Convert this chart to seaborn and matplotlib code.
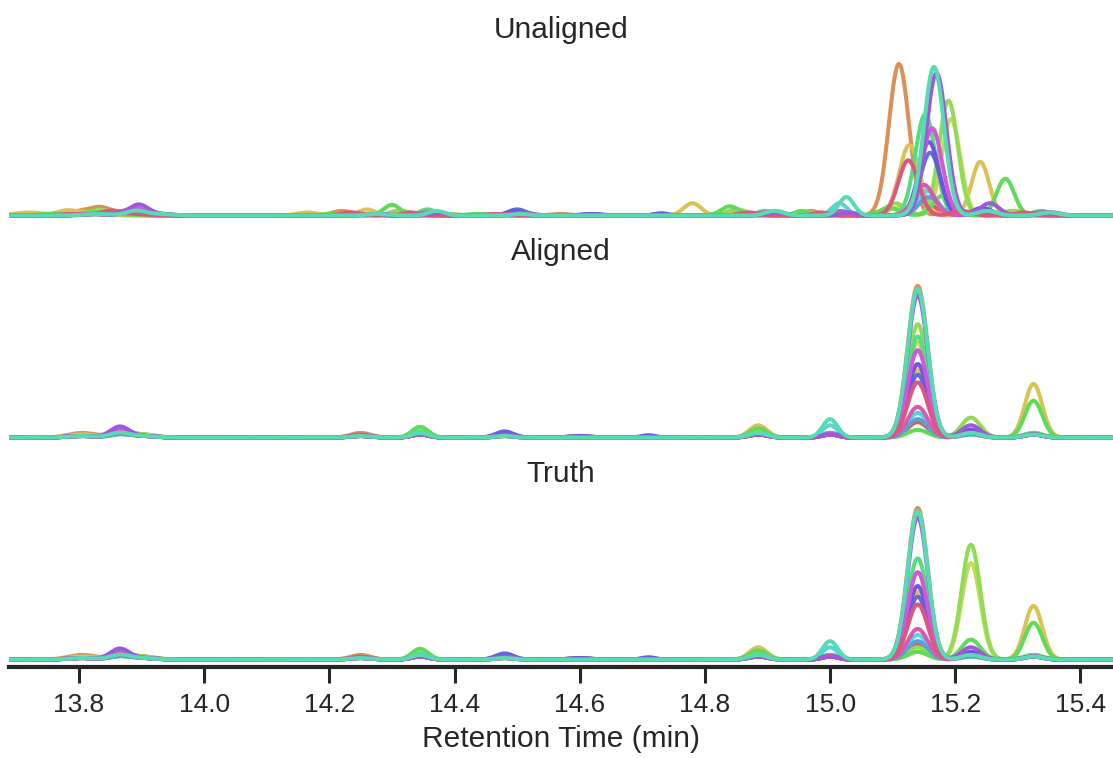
import numpy as np
import pandas as pd
import seaborn as sns
import matplotlib.pyplot as plt

sns.set_theme(style="ticks")
plt.rcParams['font.family'] = ['Liberation Sans', 'DejaVu Sans']

# peak table (retention time in min, peak sigma)
peak_rt = [13.805, 13.865, 13.90, 14.25, 14.345, 14.48, 14.60, 14.71,
           14.885, 15.00, 15.14, 15.225, 15.325]
peak_width = [0.022, 0.015, 0.020, 0.016, 0.013, 0.014, 0.016, 0.011,
              0.014, 0.012, 0.016, 0.015, 0.014]

# heights of every peak per sample (true chromatograms), one row per sample
truth_heights = [
    [0.01, 0.03, 0.01, 0.01, 0.02, 0.01, 0.00, 0.00, 0.02, 0.02, 0.10, 0.03, 0.02],
    [0.03, 0.04, 0.02, 0.03, 0.03, 0.01, 0.01, 0.00, 0.03, 0.03, 0.99, 0.04, 0.03],
    [0.02, 0.03, 0.02, 0.02, 0.04, 0.01, 0.01, 0.00, 0.08, 0.03, 0.44, 0.03, 0.35],
    [0.01, 0.03, 0.02, 0.01, 0.03, 0.01, 0.00, 0.00, 0.04, 0.02, 0.05, 0.63, 0.03],
    [0.01, 0.03, 0.02, 0.01, 0.03, 0.01, 0.00, 0.00, 0.04, 0.02, 0.08, 0.75, 0.03],
    [0.01, 0.02, 0.01, 0.01, 0.07, 0.01, 0.00, 0.00, 0.06, 0.03, 0.05, 0.13, 0.24],
    [0.01, 0.03, 0.01, 0.01, 0.04, 0.01, 0.00, 0.00, 0.03, 0.03, 0.66, 0.04, 0.03],
    [0.01, 0.03, 0.01, 0.01, 0.03, 0.01, 0.00, 0.00, 0.03, 0.12, 0.97, 0.03, 0.02],
    [0.01, 0.02, 0.01, 0.01, 0.02, 0.01, 0.00, 0.00, 0.02, 0.08, 0.16, 0.02, 0.02],
    [0.01, 0.02, 0.01, 0.01, 0.02, 0.02, 0.00, 0.00, 0.02, 0.03, 0.12, 0.02, 0.02],
    [0.01, 0.03, 0.01, 0.01, 0.02, 0.04, 0.01, 0.015, 0.02, 0.02, 0.41, 0.04, 0.02],
    [0.01, 0.03, 0.01, 0.01, 0.02, 0.03, 0.01, 0.01, 0.02, 0.02, 0.48, 0.05, 0.02],
    [0.01, 0.07, 0.01, 0.01, 0.02, 0.02, 0.00, 0.00, 0.02, 0.02, 0.93, 0.08, 0.02],
    [0.01, 0.05, 0.01, 0.01, 0.02, 0.01, 0.00, 0.00, 0.02, 0.02, 0.57, 0.03, 0.02],
    [0.01, 0.03, 0.01, 0.01, 0.02, 0.01, 0.00, 0.00, 0.02, 0.02, 0.20, 0.03, 0.02],
    [0.01, 0.03, 0.01, 0.02, 0.02, 0.01, 0.00, 0.00, 0.02, 0.02, 0.36, 0.03, 0.02],
]

# peaks that the alignment put in the wrong place: (sample, peak index) -> height
aligned_changes = {(3, 10): 0.62, (3, 11): 0.05,
                   (4, 10): 0.74, (4, 11): 0.13,
                   (5, 11): 0.04}

# retention time drift of each sample before alignment (min)
unaligned_shift = [0.010, -0.030, -0.085, -0.032, -0.036, -0.045, 0.012, 0.026,
                   0.015, 0.018, 0.020, 0.018, 0.030, 0.023, 0.010, -0.015]
unaligned_shift_changes = {(2, 10): -0.014, (2, 8): -0.105, (1, 0): 0.0}

panel_names = ["Unaligned", "Aligned", "Truth"]
draw_order = [0, 1, 2, 3, 4, 5, 6, 8, 9, 10, 11, 13, 14, 15, 12, 7]
xticks = [13.8, 14.0, 14.2, 14.4, 14.6, 14.8, 15.0, 15.2, 15.4]
xtick_labels = ["13.8", "14.0", "14.2", "14.4", "14.6", "14.8", "15.0", "15.2", "15.4"]

colors = dict(zip(range(16), sns.color_palette("hls", 16)))
t = np.linspace(13.68, 15.46, 1781)


def trace(heights, centers):
    y = np.zeros_like(t)
    for h, c, w in zip(heights, centers, peak_width):
        y += h * np.exp(-0.5 * ((t - c) / w) ** 2)
    return y


rows = []
for s, base in enumerate(truth_heights):
    aligned = list(base)
    for (ss, p), h in aligned_changes.items():
        if ss == s:
            aligned[p] = h
    shifted = [rt + unaligned_shift_changes.get((s, p), unaligned_shift[s])
               for p, rt in enumerate(peak_rt)]
    for name, h, c in [("Unaligned", base, shifted),
                       ("Aligned", aligned, peak_rt),
                       ("Truth", base, peak_rt)]:
        rows.append(pd.DataFrame({"panel": name, "sample": s,
                                  "time": t, "signal": trace(h, c)}))
df = pd.concat(rows, ignore_index=True)

fig = plt.figure(figsize=(11.13, 7.58), dpi=100)
bottoms = [0.7058, 0.4129, 0.1200]
axes = [fig.add_axes([0.0085, b, 0.9915, 0.2362]) for b in bottoms]

for i, (ax, name) in enumerate(zip(axes, panel_names)):
    sns.lineplot(data=df[df["panel"] == name], x="time", y="signal",
                 hue="sample", hue_order=draw_order, palette=colors,
                 estimator=None, legend=False, lw=2.9, ax=ax)
    ax.set_xlim(13.689, 15.452)
    ax.set_ylim(-0.049, 1.12)
    ax.set_yticks([])
    ax.set_ylabel("")
    ax.set_title(name, fontsize=21.5, pad=4.3, color="#262626")
    last = i == len(axes) - 1
    sns.despine(ax=ax, left=True, bottom=not last)
    if last:
        ax.set_xticks(xticks)
        ax.set_xticklabels(xtick_labels)
        ax.spines["bottom"].set_linewidth(3)
        ax.spines["bottom"].set_color("#262626")
        ax.tick_params(axis="x", length=11.5, width=2.2, labelsize=19,
                       pad=7, color="#262626", labelcolor="#262626")
        ax.set_xlabel("Retention Time (min)", fontsize=21.5, labelpad=6,
                      color="#262626")
    else:
        ax.set_xticks([])
        ax.set_xlabel("")

fig.savefig("out.png", dpi=100)
